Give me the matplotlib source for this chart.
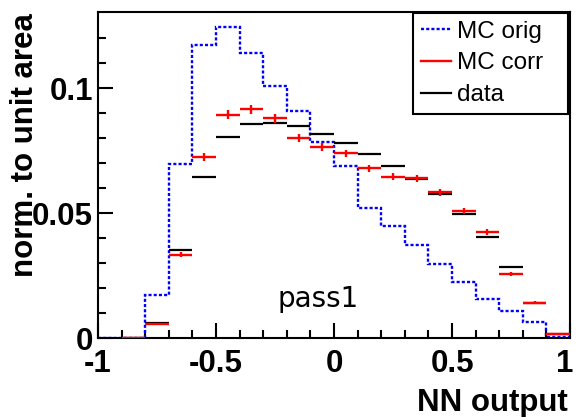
import numpy as np
import matplotlib.pyplot as plt
import matplotlib.transforms as mtransforms
from matplotlib.lines import Line2D

plt.rcParams["axes.unicode_minus"] = False

# 20 bins of width 0.1 over the NN output range
EDGES = np.linspace(-1.0, 1.0, 21)
MC_ORIG = [0.0, 0.0, 0.0173, 0.0697, 0.1173, 0.1247, 0.1140, 0.1009, 0.0908, 0.0786,
           0.0689, 0.0520, 0.0449, 0.0373, 0.0296, 0.0224, 0.0157, 0.0107, 0.0063, 0.0005]
MC_CORR = [np.nan, 0.0, 0.0057, 0.0334, 0.0724, 0.0894, 0.0916, 0.0879, 0.0800, 0.0765,
           0.0739, 0.0679, 0.0645, 0.0640, 0.0584, 0.0508, 0.0424, 0.0255, 0.0142, 0.0017]
MC_CORR_ERR = [0.0, 0.0, 0.0004, 0.0010, 0.0016, 0.0018, 0.0018, 0.0017, 0.0016, 0.0016,
               0.0015, 0.0015, 0.0014, 0.0014, 0.0014, 0.0012, 0.0011, 0.0008, 0.0006, 0.0003]
DATA = [np.nan, 0.0, 0.0062, 0.0353, 0.0645, 0.0805, 0.0857, 0.0860, 0.0849, 0.0816,
        0.0780, 0.0736, 0.0688, 0.0636, 0.0576, 0.0497, 0.0405, 0.0284, 0.0141, 0.0016]
XTICKS = [-1, -0.5, 0, 0.5, 1]
XTICKLABELS = ["-1", "-0.5", "0", "0.5", "1"]
YTICKS = [0, 0.05, 0.1]
YTICKLABELS = ["0", "0.05", "0.1"]

centers = 0.5 * (EDGES[:-1] + EDGES[1:])
halfw = 0.5 * np.diff(EDGES)

fig = plt.figure(figsize=(5.77, 4.17), dpi=100)
ax = fig.add_axes([0.170, 0.1894, 0.818, 0.7816])

dots = (0, (1.3, 0.9))
ax.stairs(MC_ORIG, EDGES, color="blue", lw=1.7, ls=dots, zorder=2)
ax.errorbar(centers, DATA, xerr=halfw, fmt="none", ecolor="black",
            elinewidth=1.6, zorder=3)
ax.errorbar(centers, MC_CORR, xerr=halfw, yerr=MC_CORR_ERR, fmt="none",
            ecolor="red", elinewidth=1.7, zorder=4)

ax.set_xlim(-1, 1)
ax.set_ylim(0, 0.1305)

bold = dict(family="Liberation Sans", weight="bold", size=22.5)
ax.set_xticks(XTICKS, XTICKLABELS, fontdict=bold)
ax.set_yticks(YTICKS, YTICKLABELS, fontdict=bold)
ax.set_xticks(np.arange(-1, 1.001, 0.1), minor=True)
ax.set_yticks(np.arange(0, 0.13, 0.01), minor=True)
ax.tick_params(which="both", direction="in", top=False, right=False, width=1.5)
ax.tick_params(which="major", length=11)
ax.tick_params(which="minor", length=6)
ax.tick_params(axis="x", pad=8)
ax.tick_params(axis="y", pad=3.5)
for s in ax.spines.values():
    s.set_linewidth(1.5)

# keep the last x label inside the canvas like the original
last = ax.get_xticklabels()[-1]
last.set_transform(last.get_transform() +
                   mtransforms.ScaledTranslation(-4 / 72, 0, fig.dpi_scale_trans))

ax.set_xlabel("NN output", loc="right", fontdict=bold)
ax.xaxis.set_label_coords(0.996, -0.153)
ax.set_ylabel("norm. to unit area", loc="top", fontdict=bold)
ax.yaxis.set_label_coords(-0.123, 0.997)

ax.text(0.381, 0.096, "pass1", transform=ax.transAxes, family="DejaVu Sans",
        size=20, va="baseline", ha="left")

handles = [Line2D([], [], color="blue", lw=1.7, ls=dots),
           Line2D([], [], color="red", lw=1.7),
           Line2D([], [], color="black", lw=1.6)]
leg = ax.legend(handles, ["MC orig", "MC corr", "data"], loc="upper right",
                bbox_to_anchor=(0.667, 0.69, 0.329, 0.308), mode="expand",
                borderaxespad=0,
                prop=dict(family="Liberation Sans", size=17.5),
                fancybox=False, framealpha=1, edgecolor="black",
                handlelength=1.25, handletextpad=0.25, labelspacing=0.4,
                borderpad=0.32)
leg.get_frame().set_linewidth(1.5)

fig.savefig("out.png", dpi=100)
